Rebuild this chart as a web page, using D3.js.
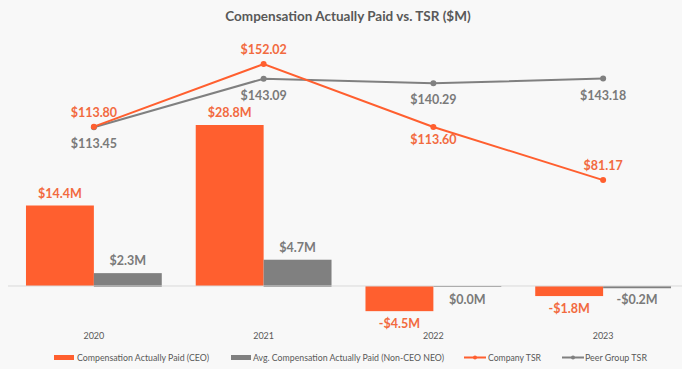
<!DOCTYPE html>
<html>
<head>
<meta charset="utf-8">
<script src="https://cdn.jsdelivr.net/npm/d3@7"></script>
<style>
  html, body { margin: 0; padding: 0; background: #f8f8f8; }
  svg { display: block; font-family: Lato, "Open Sans", sans-serif; }
</style>
</head>
<body>
<svg id="chart" width="682" height="369"></svg>
<script>
const years = ["2020", "2021", "2022", "2023"];
const ceoCAP = [14.4, 28.8, -4.5, -1.8];
const neoCAP = [2.3, 4.7, 0.0, -0.2];
const companyTSR = [113.80, 152.02, 113.60, 81.17];
const peerTSR = [113.45, 143.09, 140.29, 143.18];
const seriesNames = ["Compensation Actually Paid (CEO)", "Avg. Compensation Actually Paid (Non-CEO NEO)", "Company TSR", "Peer Group TSR"];
const title = "Compensation Actually Paid vs. TSR ($M)";

const ORANGE = "#ff5f2f", ORANGE_TXT = "#f26a3f", GREY = "#808080", GREY_TXT = "#7a7a7a";

const svg = d3.select("#chart");

const x = d3.scaleBand().domain(years).range([9, 688]).paddingInner(0.2).paddingOuter(0.1);
const xSub = d3.scaleBand().domain(["ceo", "neo"]).range([0, x.bandwidth()]);
const yBar = d3.scaleLinear().domain([0, 28.8]).range([286, 125]);
const yLine = d3.scaleLinear().domain([0, 160]).range([313, 51]);

// title
svg.append("text").attr("x", 348).attr("y", 21).attr("text-anchor", "middle")
  .attr("font-size", 13.5).attr("font-weight", "bold").attr("fill", "#595959").text(title);

// bars
const g = svg.append("g");
function bars(vals, key, color) {
  g.selectAll(".b" + key).data(vals).join("rect")
    .attr("x", (d, i) => x(years[i]) + xSub(key))
    .attr("width", xSub.bandwidth())
    .attr("y", d => Math.min(yBar(d), yBar(0)))
    .attr("height", d => Math.abs(yBar(d) - yBar(0)))
    .attr("fill", color);
}
bars(ceoCAP, "ceo", ORANGE);
bars(neoCAP, "neo", GREY);

// zero axis line
svg.append("line").attr("x1", 8).attr("x2", 688).attr("y1", yBar(0)).attr("y2", yBar(0))
  .attr("stroke", "#d9d9d9").attr("stroke-width", 1);
// zero-valued bar outlines
g.selectAll(".zero").data(neoCAP).join("line")
  .attr("x1", (d, i) => x(years[i]) + xSub("neo"))
  .attr("x2", (d, i) => x(years[i]) + xSub("neo") + xSub.bandwidth())
  .attr("y1", d => yBar(Math.min(d, 0)) + 0.5).attr("y2", d => yBar(Math.min(d, 0)) + 0.5)
  .attr("stroke", GREY).attr("stroke-width", 1.2);

// bar labels
function barLabels(vals, key, color) {
  svg.selectAll(".l" + key).data(vals).join("text")
    .attr("x", (d, i) => x(years[i]) + xSub(key) + xSub.bandwidth() / 2)
    .attr("y", d => d > 0 ? yBar(d) - 8 : (key === "ceo" ? yBar(d) + 17 : yBar(0) + 18))
    .attr("text-anchor", "middle").attr("font-size", 12.5).attr("font-weight", "bold")
    .attr("fill", color)
    .text(d => (d < 0 ? "-" : "") + "$" + Math.abs(d).toFixed(1) + "M");
}
barLabels(ceoCAP, "ceo", ORANGE_TXT);
barLabels(neoCAP, "neo", GREY_TXT);

// lines
const cx = y => x(y) + x.bandwidth() / 2;
const line = d3.line().x((d, i) => cx(years[i])).y(d => yLine(d));
svg.append("path").datum(peerTSR).attr("d", line).attr("fill", "none").attr("stroke", GREY).attr("stroke-width", 2);
svg.append("path").datum(companyTSR).attr("d", line).attr("fill", "none").attr("stroke", ORANGE).attr("stroke-width", 2);
svg.selectAll(".pp").data(peerTSR).join("circle").attr("cx", (d, i) => cx(years[i])).attr("cy", d => yLine(d)).attr("r", 3).attr("fill", GREY);
svg.selectAll(".cp").data(companyTSR).join("circle").attr("cx", (d, i) => cx(years[i])).attr("cy", d => yLine(d)).attr("r", 3).attr("fill", ORANGE);

// line labels
const companyAbove = [true, true, false, true];
svg.selectAll(".cl").data(companyTSR).join("text")
  .attr("x", (d, i) => cx(years[i]))
  .attr("y", (d, i) => companyAbove[i] ? yLine(d) - 10 : yLine(d) + 17)
  .attr("text-anchor", "middle").attr("font-size", 12.5).attr("font-weight", "bold").attr("fill", ORANGE_TXT)
  .text(d => "$" + d.toFixed(2));
svg.selectAll(".pl").data(peerTSR).join("text")
  .attr("x", (d, i) => cx(years[i]))
  .attr("y", d => yLine(d) + 21)
  .attr("text-anchor", "middle").attr("font-size", 12.5).attr("font-weight", "bold").attr("fill", GREY_TXT)
  .text(d => "$" + d.toFixed(2));

// x axis labels
svg.selectAll(".yl").data(years).join("text")
  .attr("x", d => cx(d)).attr("y", 339).attr("text-anchor", "middle")
  .attr("font-size", 9).attr("fill", "#595959").text(d => d);

// legend
const leg = svg.append("g").attr("font-size", 9).attr("fill", "#595959");
const legItems = [
  {name: seriesNames[0], type: "rect", color: ORANGE, x0: 54, tx: 77, tw: 132},
  {name: seriesNames[1], type: "rect", color: GREY, x0: 231, tx: 253, tw: 191},
  {name: seriesNames[2], type: "line", color: ORANGE, x0: 464, tx: 488, tw: 53},
  {name: seriesNames[3], type: "line", color: GREY, x0: 562, tx: 585, tw: 62}
];
legItems.forEach(it => {
  if (it.type === "rect") {
    leg.append("rect").attr("x", it.x0).attr("y", 355).attr("width", 20).attr("height", 5).attr("fill", it.color);
  } else {
    leg.append("line").attr("x1", it.x0).attr("x2", it.x0 + 22).attr("y1", 357.5).attr("y2", 357.5).attr("stroke", it.color).attr("stroke-width", 2);
    leg.append("circle").attr("cx", it.x0 + 11).attr("cy", 357.5).attr("r", 2).attr("fill", it.color);
  }
  leg.append("text").attr("x", it.tx).attr("y", 361).attr("textLength", it.tw).attr("lengthAdjust", "spacingAndGlyphs").text(it.name);
});
</script>
</body>
</html>
